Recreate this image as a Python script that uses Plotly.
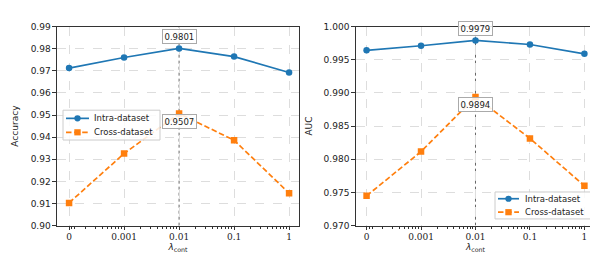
import plotly.graph_objects as go
from plotly.subplots import make_subplots
import math

lambda_labels = ["0", "0.001", "0.01", "0.1", "1"]
acc_intra = [0.9712, 0.9760, 0.9801, 0.9764, 0.9692]
acc_cross = [0.9103, 0.9326, 0.9507, 0.9386, 0.9147]
auc_intra = [0.99642, 0.99710, 0.99790, 0.99729, 0.99589]
auc_cross = [0.97449, 0.98116, 0.98940, 0.98314, 0.97601]
series_names = ["Intra-dataset", "Cross-dataset"]

pos = list(range(len(lambda_labels)))
BLUE = "#1f77b4"
ORANGE = "#ff7f0e"
DASH = "5.5px,2.6px"
W, H = 598, 265

fig = make_subplots(rows=1, cols=2)

def add_pair(intra, cross, col):
    fig.add_trace(go.Scatter(x=pos, y=intra, mode="lines+markers", name=series_names[0],
                             line=dict(color=BLUE, width=1.7),
                             marker=dict(symbol="circle", size=6.5, color=BLUE),
                             showlegend=False), row=1, col=col)
    fig.add_trace(go.Scatter(x=pos, y=cross, mode="lines+markers", name=series_names[1],
                             line=dict(color=ORANGE, width=1.7, dash=DASH),
                             marker=dict(symbol="square", size=6.5, color=ORANGE),
                             showlegend=False), row=1, col=col)

add_pair(acc_intra, acc_cross, 1)
add_pair(auc_intra, auc_cross, 2)

# minor ticks (symlog-like)
minor = [0.05, 0.1]
minor += [1 + math.log10(k / 10) for k in range(2, 10)]
for d in range(1, 4):
    minor += [d + math.log10(k) for k in range(2, 10)]

axis_font = dict(family="DejaVu Sans", size=9, color="#222")
xcommon = dict(tickmode="array", tickvals=pos, ticktext=lambda_labels,
               tickfont=dict(family="DejaVu Serif", size=9, color="#222"),
               showline=True, linecolor="#333", linewidth=1, mirror=True,
               ticks="outside", ticklen=3, tickcolor="#333",
               showgrid=True, gridcolor="#dddddd", griddash="dash", gridwidth=0.8,
               zeroline=False,
               minor=dict(tickmode="array", tickvals=minor, ticks="outside", ticklen=2,
                          tickcolor="#333", showgrid=False),
               title=dict(text="<i>λ</i><sub>cont</sub>", font=dict(family="DejaVu Sans", size=9, color="#222"), standoff=2))
ycommon = dict(showline=True, linecolor="#333", linewidth=1, mirror=True,
               ticks="outside", ticklen=3.5, tickcolor="#333", tickfont=axis_font,
               showgrid=True, gridcolor="#dddddd", griddash="dash", gridwidth=0.8,
               zeroline=False)

fig.update_layout(
    xaxis=dict(domain=[0.0819, 0.4866], range=[-0.22, 4.18], **xcommon),
    xaxis2=dict(domain=[0.5814, 0.9821], range=[-0.2, 4.2], **xcommon),
    yaxis=dict(domain=[0.166, 0.947], range=[0.90, 0.99], tickvals=[0.90 + 0.01 * i for i in range(10)],
               tickformat=".2f", title=dict(text="Accuracy", font=axis_font, standoff=10), **ycommon),
    yaxis2=dict(domain=[0.166, 0.947], range=[0.970, 1.000], tickvals=[0.970 + 0.005 * i for i in range(7)],
                tickformat=".3f", title=dict(text="AUC", font=axis_font, standoff=9), **ycommon),
)

# vertical dotted lines at lambda = 0.01
for xr, yr in [("x", "y domain"), ("x2", "y2 domain")]:
    fig.add_shape(type="line", xref=xr, yref=yr, x0=2, x1=2, y0=0, y1=1,
                  line=dict(color="#555", width=0.9, dash="dot"), layer="below")

ann_font = dict(family="DejaVu Sans", size=8.5, color="#222")
for xr, yr, yv, shift in [("x", "y", acc_intra[2], 12), ("x", "y", acc_cross[2], -8),
                          ("x2", "y2", auc_intra[2], 12), ("x2", "y2", auc_cross[2], -8)]:
    fig.add_annotation(x=2, y=yv, xref=xr, yref=yr, text=f"{yv:.4f}", showarrow=False,
                       yshift=shift, font=ann_font, bgcolor="rgba(255,255,255,0.85)",
                       bordercolor="#aaaaaa", borderwidth=1, borderpad=1.5)

# custom compact legends (pixel layout -> paper coords)
def px(x):
    return x / W

def py(y):
    return 1 - y / H

def legend_box(x0, y0, x1, y1, rows, lx0, lx1, tx):
    fig.add_shape(type="rect", xref="paper", yref="paper", x0=px(x0), x1=px(x1), y0=py(y0), y1=py(y1),
                  line=dict(color="#cccccc", width=1), fillcolor="rgba(255,255,255,0.85)", layer="above")
    styles = [(BLUE, "solid", "circle"), (ORANGE, DASH, "square")]
    for (color, dash, sym), ry, name in zip(styles, rows, series_names):
        fig.add_shape(type="line", xref="paper", yref="paper", x0=px(lx0), x1=px(lx1), y0=py(ry), y1=py(ry),
                      line=dict(color=color, width=1.7, dash=dash), layer="above")
        cx = (lx0 + lx1) / 2
        r = 3.2
        fig.add_shape(type="circle" if sym == "circle" else "rect", xref="paper", yref="paper",
                      x0=px(cx - r), x1=px(cx + r), y0=py(ry + r), y1=py(ry - r),
                      line=dict(color=color, width=0), fillcolor=color, layer="above")
        fig.add_annotation(xref="paper", yref="paper", x=px(tx), y=py(ry), text=name, showarrow=False,
                           xanchor="left", yanchor="middle",
                           font=dict(family="DejaVu Sans", size=8.5, color="#222"))

legend_box(55, 101, 152, 132, [109.5, 124], 58, 81, 84)
legend_box(487, 186, 583, 214, [193, 207], 490, 511, 515)

fig.update_layout(width=W, height=H, margin=dict(l=0, r=0, t=0, b=0),
                  plot_bgcolor="white", paper_bgcolor="white", showlegend=False)

fig.write_html("out.html")
